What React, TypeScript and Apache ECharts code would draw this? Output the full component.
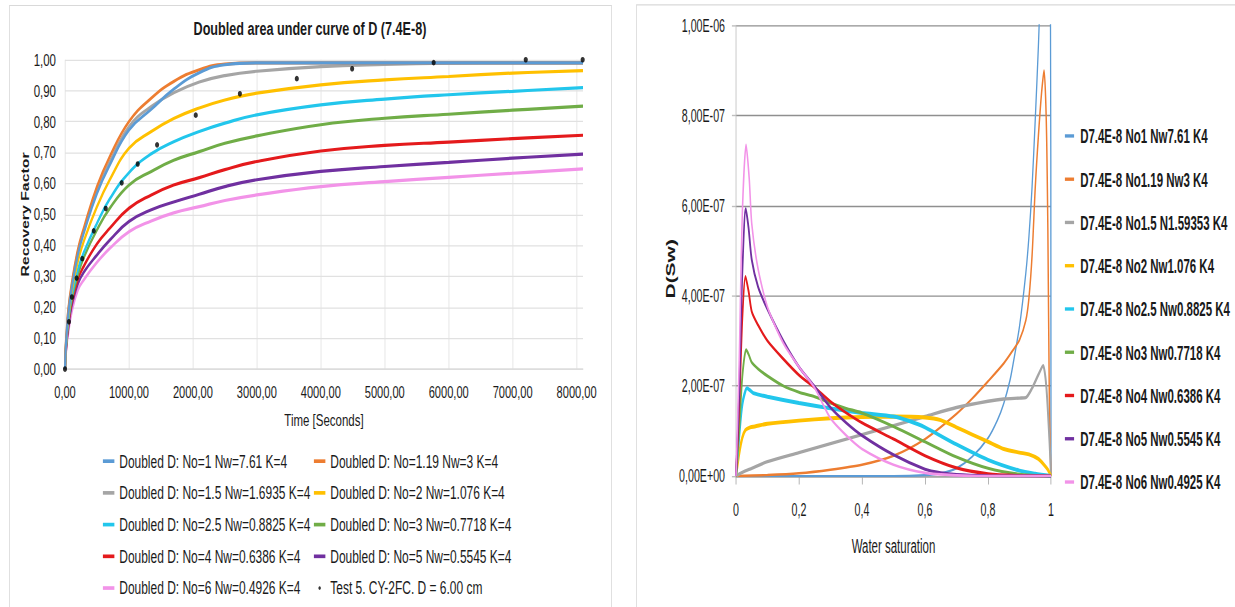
import React, { useEffect, useRef } from 'react';
import * as echarts from 'echarts';

// ---------- shared look ----------
// Both panels are rendered in a squeezed frame: the horizontal squeeze turns
// Liberation Sans into its narrow cut, the vertical factor makes the panel tall.
const SQUEEZE_X = 0.82;
const LEFT_STRETCH = 1.22;
const RIGHT_STRETCH = 1.4;

const SANS = "'Liberation Sans', Arial, sans-serif";
const INK = '#1a1a1a';
const COLORS = ['#5B9BD5', '#ED7D31', '#A5A5A5', '#FFC000', '#22C6EC', '#70AD47', '#E41A1C', '#7030A0', '#F293E8'];
const LINE_ICON = 'path://M0,0H14V3H0Z';

// ---------- left panel: recovery factor vs time ----------
const recoveryTitle = 'Doubled area under curve of D (7.4E-8)';
const recoveryNames = [
  'Doubled D: No=1 Nw=7.61 K=4',
  'Doubled D: No=1.19 Nw=3 K=4',
  'Doubled D: No=1.5 Nw=1.6935 K=4',
  'Doubled D: No=2 Nw=1.076 K=4',
  'Doubled D: No=2.5 Nw=0.8825 K=4',
  'Doubled D: No=3 Nw=0.7718 K=4',
  'Doubled D: No=4 Nw=0.6386 K=4',
  'Doubled D: No=5 Nw=0.5545 K=4',
  'Doubled D: No=6 Nw=0.4926 K=4',
];
const testName = 'Test 5. CY-2FC. D = 6.00 cm';

const timeSeconds = [0, 10, 25, 50, 100, 200, 300, 500, 700, 1000, 1350, 1700, 2100, 2500, 3000, 4000, 5000, 6000, 7000, 8100];
const rfNo1 = [0, 0.06, 0.11, 0.175, 0.255, 0.369, 0.444, 0.568, 0.66, 0.773, 0.84, 0.905, 0.958, 0.984, 0.99, 0.99, 0.99, 0.99, 0.99, 0.99];
const rfNo119 = [0, 0.07, 0.12, 0.19, 0.27, 0.385, 0.46, 0.59, 0.687, 0.8, 0.876, 0.93, 0.968, 0.986, 0.99, 0.99, 0.99, 0.99, 0.99, 0.99];
const rfNo15 = [0, 0.065, 0.115, 0.185, 0.262, 0.378, 0.452, 0.579, 0.671, 0.784, 0.849, 0.893, 0.928, 0.949, 0.963, 0.978, 0.985, 0.989, 0.99, 0.99];
const rfNo2 = [0, 0.06, 0.105, 0.165, 0.245, 0.347, 0.417, 0.525, 0.612, 0.714, 0.768, 0.81, 0.844, 0.87, 0.892, 0.919, 0.935, 0.946, 0.957, 0.965];
const rfNo25 = [0, 0.055, 0.1, 0.155, 0.23, 0.32, 0.38, 0.471, 0.55, 0.635, 0.696, 0.735, 0.768, 0.795, 0.822, 0.854, 0.873, 0.887, 0.898, 0.91];
const rfNo3 = [0, 0.05, 0.095, 0.15, 0.22, 0.304, 0.364, 0.45, 0.52, 0.595, 0.639, 0.675, 0.703, 0.73, 0.754, 0.79, 0.811, 0.824, 0.837, 0.85];
const rfNo4 = [0, 0.045, 0.09, 0.14, 0.21, 0.29, 0.335, 0.405, 0.455, 0.52, 0.563, 0.595, 0.619, 0.645, 0.671, 0.705, 0.723, 0.734, 0.745, 0.756];
const rfNo5 = [0, 0.04, 0.085, 0.13, 0.2, 0.275, 0.315, 0.369, 0.417, 0.477, 0.515, 0.54, 0.565, 0.59, 0.612, 0.639, 0.655, 0.668, 0.682, 0.695];
const rfNo6 = [0, 0.035, 0.075, 0.115, 0.18, 0.255, 0.29, 0.345, 0.39, 0.444, 0.479, 0.505, 0.525, 0.545, 0.563, 0.59, 0.606, 0.62, 0.633, 0.647];
const recoveryCurves = [rfNo1, rfNo119, rfNo15, rfNo2, rfNo25, rfNo3, rfNo4, rfNo5, rfNo6];

const testTime = [0, 62, 108, 182, 270, 450, 637, 887, 1137, 1440, 2045, 2735, 3625, 4490, 5765, 7205, 8095];
const testRecovery = [0, 0.153, 0.233, 0.294, 0.357, 0.447, 0.519, 0.602, 0.663, 0.725, 0.821, 0.89, 0.939, 0.971, 0.991, 1.0, 1.0];

const xTicks = { min: 0, max: 8100, interval: 1000 };
const yTicks = { min: 0, max: 1, interval: 0.1 };

// ---------- right panel: D(Sw) vs water saturation (values in units of 1e-7) ----------
const diffusivityNames = [
  'D7.4E-8 No1 Nw7.61 K4',
  'D7.4E-8 No1.19 Nw3 K4',
  'D7.4E-8 No1.5 N1.59353 K4',
  'D7.4E-8 No2 Nw1.076 K4',
  'D7.4E-8 No2.5 Nw0.8825 K4',
  'D7.4E-8 No3 Nw0.7718 K4',
  'D7.4E-8 No4 Nw0.6386 K4',
  'D7.4E-8 No5 Nw0.5545 K4',
  'D7.4E-8 No6 Nw0.4925 K4',
];
const dNo1 = [[0, 0], [0.5, 0], [0.6, 0.02], [0.65, 0.06], [0.7, 0.17], [0.75, 0.43], [0.8, 0.84], [0.83, 1.24], [0.85, 1.61], [0.87, 2.13], [0.88, 2.5], [0.9, 3.32], [0.92, 4.5], [0.93, 5.32], [0.94, 6.43], [0.95, 7.91], [0.96, 9.54], [0.97, 11.5], [0.98, 13], [0.99, 14], [0.997, 14], [1, 0]];
const dNo119 = [[0, 0], [0.1, 0.02], [0.2, 0.06], [0.3, 0.14], [0.4, 0.25], [0.5, 0.45], [0.6, 0.82], [0.7, 1.38], [0.75, 1.72], [0.8, 2.1], [0.85, 2.5], [0.88, 2.8], [0.9, 3.02], [0.92, 3.45], [0.93, 3.95], [0.94, 4.9], [0.95, 6.4], [0.96, 7.55], [0.97, 8.5], [0.978, 9.0], [0.985, 7.9], [0.99, 5.5], [0.995, 1.5], [1, 0]];
const dNo15 = [[0, 0], [0.02, 0.08], [0.05, 0.17], [0.1, 0.32], [0.2, 0.52], [0.3, 0.72], [0.4, 0.92], [0.5, 1.12], [0.6, 1.32], [0.7, 1.52], [0.8, 1.66], [0.85, 1.71], [0.9, 1.73], [0.92, 1.74], [0.94, 1.95], [0.96, 2.25], [0.975, 2.45], [0.985, 2.0], [0.995, 0.8], [1, 0]];
const dNo2 = [[0, 0], [0.01, 0.5], [0.02, 0.85], [0.03, 1.02], [0.045, 1.08], [0.06, 1.1], [0.1, 1.16], [0.2, 1.23], [0.3, 1.28], [0.4, 1.31], [0.5, 1.32], [0.6, 1.3], [0.65, 1.24], [0.7, 1.08], [0.75, 0.92], [0.8, 0.76], [0.85, 0.6], [0.9, 0.52], [0.93, 0.48], [0.96, 0.38], [0.98, 0.23], [0.99, 0.14], [1, 0]];
const dNo25 = [[0, 0], [0.01, 0.9], [0.02, 1.6], [0.035, 1.95], [0.045, 1.9], [0.055, 1.84], [0.1, 1.76], [0.2, 1.62], [0.3, 1.5], [0.4, 1.4], [0.5, 1.32], [0.55, 1.22], [0.6, 1.08], [0.7, 0.7], [0.8, 0.36], [0.9, 0.12], [0.95, 0.05], [1, 0]];
const dNo3 = [[0, 0], [0.01, 1.0], [0.02, 2.2], [0.032, 2.8], [0.04, 2.7], [0.05, 2.52], [0.07, 2.38], [0.1, 2.22], [0.15, 2.0], [0.2, 1.86], [0.25, 1.76], [0.3, 1.62], [0.35, 1.5], [0.4, 1.4], [0.5, 1.1], [0.6, 0.76], [0.7, 0.42], [0.8, 0.17], [0.9, 0.04], [1, 0]];
const dNo4 = [[0, 0], [0.01, 1.5], [0.02, 3.5], [0.03, 4.43], [0.04, 4.1], [0.05, 3.65], [0.07, 3.35], [0.1, 3.0], [0.15, 2.6], [0.2, 2.24], [0.25, 1.96], [0.3, 1.65], [0.35, 1.4], [0.4, 1.18], [0.5, 0.82], [0.6, 0.45], [0.7, 0.18], [0.8, 0.05], [0.9, 0.01], [1, 0]];
const dNo5 = [[0, 0], [0.01, 1.8], [0.02, 4.5], [0.031, 5.93], [0.04, 5.5], [0.05, 4.8], [0.07, 4.2], [0.1, 3.7], [0.15, 3.0], [0.2, 2.42], [0.25, 1.98], [0.3, 1.52], [0.35, 1.18], [0.4, 0.9], [0.5, 0.47], [0.6, 0.15], [0.65, 0.07], [0.7, 0.03], [0.8, 0.005], [0.9, 0], [1, 0]];
const dNo6 = [[0, 0], [0.01, 2.5], [0.02, 5.8], [0.032, 7.35], [0.042, 6.6], [0.05, 5.6], [0.07, 4.6], [0.1, 3.75], [0.15, 2.95], [0.2, 2.42], [0.25, 1.95], [0.3, 1.28], [0.35, 0.9], [0.4, 0.6], [0.5, 0.25], [0.6, 0.07], [0.7, 0.015], [0.8, 0], [0.9, 0], [1, 0]];
const diffusivityCurves = [dNo1, dNo119, dNo15, dNo2, dNo25, dNo3, dNo4, dNo5, dNo6];
const diffusivityWidths = [1.6, 1.8, 2.4, 2.8, 2.8, 2.2, 2.2, 2.2, 1.9];

const commaFixed = (v: number, d: number) => v.toFixed(d).replace('.', ',');
const sciLabel = (v: number) => {
  const [m, e] = (v * 1e-7).toExponential(2).split('e');
  const ex = parseInt(e, 10);
  return m.replace('.', ',') + 'E' + (ex < 0 ? '-' : '+') + String(Math.abs(ex)).padStart(2, '0');
};

// page x (px) -> squeezed panel x
const sx = (px: number) => px / SQUEEZE_X;

// rotated axis title drawn as a graphic text (page x, panel y)
const axisTitle = (text: string, pageX: number, y: number, fontSize: number) => ({
  type: 'text',
  silent: true,
  x: sx(pageX),
  y,
  rotation: Math.PI / 2,
  style: {
    text,
    fontFamily: SANS,
    fontSize,
    fontWeight: 'bold',
    fill: INK,
    align: 'center',
    verticalAlign: 'middle',
  },
});

function recoveryOption(): any {
  const col1 = [0, 2, 4, 6, 8].map((i) => ({ name: recoveryNames[i], icon: LINE_ICON }));
  const col2: any[] = [1, 3, 5, 7].map((i) => ({ name: recoveryNames[i], icon: LINE_ICON }));
  col2.push({ name: testName, icon: 'circle' });
  const legendBase = {
    orient: 'vertical',
    top: 365,
    itemWidth: 16,
    itemHeight: 3,
    itemGap: 10,
    selectedMode: false,
    textStyle: { fontFamily: SANS, fontSize: 14.6, color: INK, lineHeight: 16 },
  };
  return {
    animation: false,
    title: {
      text: recoveryTitle,
      left: 'center',
      top: 11,
      textStyle: { fontFamily: SANS, fontSize: 15.4, fontWeight: 'bold', color: INK },
    },
    graphic: [
      {
        type: 'rect',
        silent: true,
        z: -10,
        shape: { x: sx(9.5), y: 4.5, width: sx(602), height: 600 },
        style: { fill: 'none', stroke: '#d9d9d9', lineWidth: 1 },
      },
      axisTitle('Recovery Factor', 25, 175.8, 13),
    ],
    grid: { left: sx(65), top: 49, width: sx(518), height: 253.5 },
    xAxis: {
      type: 'value',
      ...xTicks,
      name: 'Time [Seconds]',
      nameLocation: 'middle',
      nameGap: 35,
      nameTextStyle: { fontFamily: SANS, fontSize: 14, color: INK },
      axisLine: { show: true, lineStyle: { color: '#d9d9d9' } },
      axisTick: { show: false },
      axisLabel: {
        margin: 12,
        fontFamily: SANS,
        fontSize: 13.5,
        color: INK,
        formatter: (v: number) => (v % 1000 === 0 ? commaFixed(v, 2) : ''),
      },
      splitLine: { show: true, showMaxLine: false, lineStyle: { color: '#e1e1e1' } },
    },
    yAxis: {
      type: 'value',
      ...yTicks,
      axisLine: { show: false },
      axisTick: { show: false },
      axisLabel: { margin: sx(9), fontFamily: SANS, fontSize: 14, color: INK, formatter: (v: number) => commaFixed(v, 2) },
      splitLine: { show: true, lineStyle: { color: '#e1e1e1' } },
    },
    legend: [
      { ...legendBase, left: sx(98.8), data: col1 },
      { ...legendBase, left: sx(309.8), data: col2 },
    ],
    series: [
      ...recoveryCurves.map((vals, i) => ({
        type: 'line',
        name: recoveryNames[i],
        data: timeSeconds.map((t, k) => [t, vals[k]]),
        symbol: 'none',
        showSymbol: false,
        smooth: 0.45,
        color: COLORS[i],
        lineStyle: { width: 2.6, color: COLORS[i] },
        z: 2 + (8 - i) / 10,
      })),
      {
        type: 'scatter',
        name: testName,
        data: testTime.map((t, k) => [t, testRecovery[k]]),
        symbol: 'circle',
        symbolSize: [5, 4.6],
        itemStyle: { color: '#000' },
        z: 5,
      },
    ],
  };
}

function diffusivityOption(): any {
  return {
    animation: false,
    graphic: [
      {
        type: 'rect',
        silent: true,
        z: -10,
        shape: { x: sx(16.5), y: 3.5, width: 900, height: 600 },
        style: { fill: 'none', stroke: '#d9d9d9', lineWidth: 1 },
      },
      axisTitle('D(Sw)', 51, 192, 15),
    ],
    grid: { left: sx(116), top: 18.2, width: sx(315), height: 321.8 },
    xAxis: {
      type: 'value',
      min: 0,
      max: 1,
      interval: 0.2,
      name: 'Water saturation',
      nameLocation: 'middle',
      nameGap: 43,
      nameTextStyle: { fontFamily: SANS, fontSize: 14, color: INK },
      axisLine: { show: true, lineStyle: { color: '#a6a6a6' } },
      axisTick: { show: true, length: 6, lineStyle: { color: '#a6a6a6' } },
      axisLabel: {
        margin: 18,
        fontFamily: SANS,
        fontSize: 13,
        color: INK,
        formatter: (v: number) => String(Math.round(v * 10) / 10).replace('.', ','),
      },
      splitLine: { show: false },
    },
    yAxis: {
      type: 'value',
      min: 0,
      max: 10,
      interval: 2,
      axisLine: { show: true, lineStyle: { color: '#bfbfbf' } },
      axisTick: { show: true, length: 5, lineStyle: { color: '#bfbfbf' } },
      axisLabel: { margin: sx(11), fontFamily: SANS, fontSize: 13, color: INK, formatter: sciLabel },
      splitLine: { show: true, lineStyle: { color: '#8f8f8f' } },
    },
    legend: {
      orient: 'vertical',
      left: sx(440.8),
      top: 84.1,
      itemWidth: 16,
      itemHeight: 2.4,
      itemGap: 14.9,
      selectedMode: false,
      textStyle: { fontFamily: SANS, fontSize: 14, fontWeight: 'bold', color: INK, lineHeight: 16 },
      data: diffusivityNames.map((name) => ({ name, icon: LINE_ICON })),
    },
    series: diffusivityCurves.map((pts, i) => ({
      type: 'line',
      name: diffusivityNames[i],
      data: pts,
      symbol: 'none',
      showSymbol: false,
      smooth: 0.25,
      clip: true,
      color: COLORS[i],
      lineStyle: { width: diffusivityWidths[i], color: COLORS[i] },
    })),
  };
}

export default function App() {
  const leftRef = useRef<HTMLDivElement>(null);
  const rightRef = useRef<HTMLDivElement>(null);

  useEffect(() => {
    document.body.style.margin = '0';
    const left = echarts.init(leftRef.current as HTMLDivElement, undefined, { renderer: 'svg' });
    const right = echarts.init(rightRef.current as HTMLDivElement, undefined, { renderer: 'svg' });
    left.setOption(recoveryOption());
    right.setOption(diffusivityOption());
    return () => {
      left.dispose();
      right.dispose();
    };
  }, []);

  const panel = (leftPx: number, widthPx: number, stretch: number): React.CSSProperties => ({
    position: 'absolute',
    left: leftPx,
    top: 0,
    width: widthPx / SQUEEZE_X,
    height: 607 / stretch,
    transform: `scale(${SQUEEZE_X}, ${stretch})`,
    transformOrigin: '0 0',
  });

  return (
    <div style={{ position: 'relative', width: 1235, height: 607, overflow: 'hidden', background: '#fff' }}>
      <div ref={leftRef} style={panel(0, 620, LEFT_STRETCH)} />
      <div ref={rightRef} style={panel(620, 615, RIGHT_STRETCH)} />
    </div>
  );
}
